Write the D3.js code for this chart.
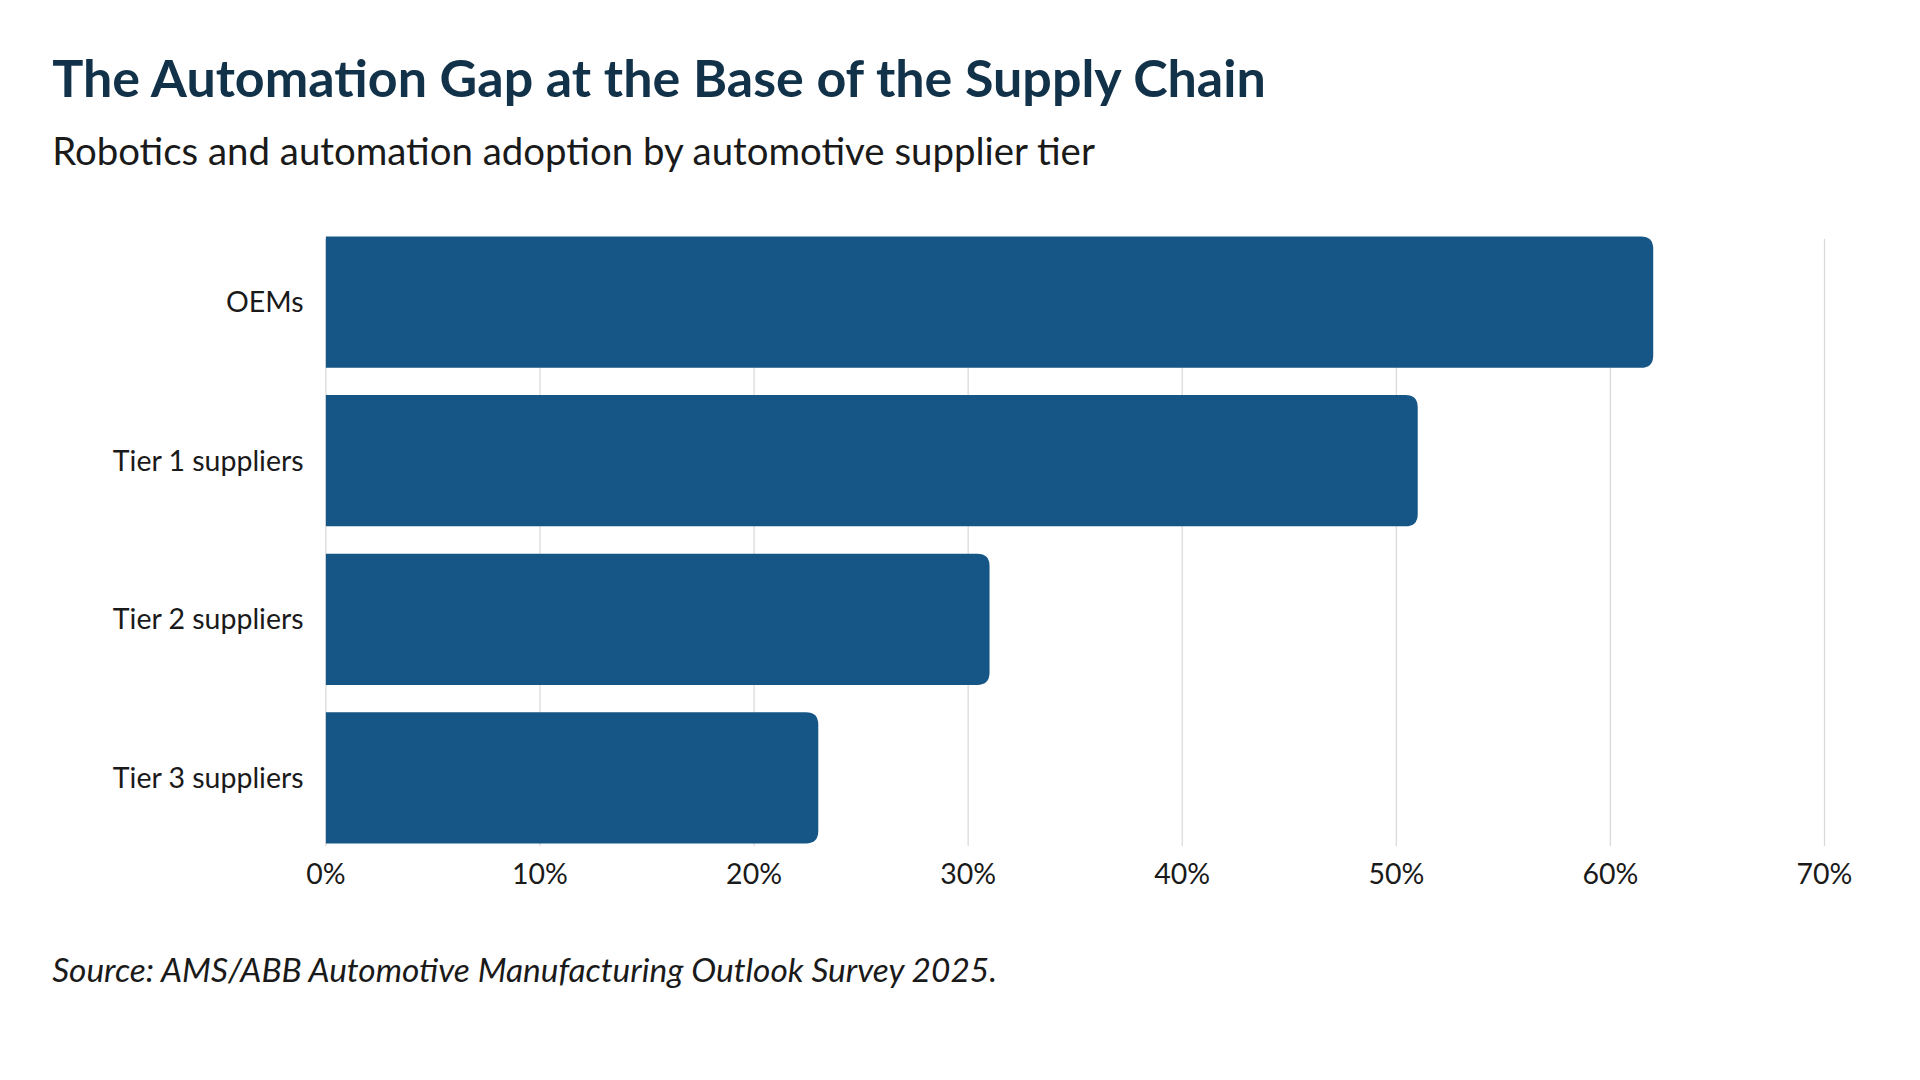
<!DOCTYPE html>
<html>
<head>
<meta charset="utf-8">
<script src="https://cdn.jsdelivr.net/npm/d3@7"></script>
<style>
  body { margin: 0; background: #fff; }
  text { font-family: Lato, "Noto Sans", sans-serif; }
</style>
</head>
<body>
<div id="chart"></div>
<script>
// data
var tiers = ["OEMs", "Tier 1 suppliers", "Tier 2 suppliers", "Tier 3 suppliers"];
var adoption = [62, 51, 31, 23];
var tickValues = [0, 10, 20, 30, 40, 50, 60, 70];

// drawn in a 1550x872 coordinate space, scaled to the window
var svg = d3.select("#chart").append("svg")
    .attr("width", 1920)
    .attr("height", 1080)
    .attr("viewBox", "0 0 1550 872");

svg.append("text")
    .attr("x", 42).attr("y", 78)
    .attr("font-size", 42).attr("font-weight", 700)
    .attr("fill", "#12324a")
    .text("The Automation Gap at the Base of the Supply Chain");

svg.append("text")
    .attr("x", 42).attr("y", 133)
    .attr("font-size", 31)
    .attr("fill", "#1a1a1a")
    .text("Robotics and automation adoption by automotive supplier tier");

var x = d3.scaleLinear().domain([0, 70]).range([263, 1473]);
var y = d3.scaleBand().domain(tiers).range([180, 692])
    .paddingInner(0.172).paddingOuter(0.086);

// gridlines
svg.selectAll("line.grid")
    .data(tickValues)
    .enter().append("line")
    .attr("class", "grid")
    .attr("x1", d => x(d)).attr("x2", d => x(d))
    .attr("y1", 193).attr("y2", 683)
    .attr("stroke", "#d9d9d9").attr("stroke-width", 1);

// bars with rounded right end
var r = 10;
svg.selectAll("path.bar")
    .data(tiers)
    .enter().append("path")
    .attr("class", "bar")
    .attr("fill", "#155686")
    .attr("d", function(d, i) {
        var x0 = x(0), x1 = x(adoption[i]), y0 = y(d), h = y.bandwidth();
        return "M" + x0 + "," + y0 + "H" + (x1 - r) +
            "Q" + x1 + "," + y0 + " " + x1 + "," + (y0 + r) +
            "V" + (y0 + h - r) +
            "Q" + x1 + "," + (y0 + h) + " " + (x1 - r) + "," + (y0 + h) +
            "H" + x0 + "Z";
    });

// category labels
svg.selectAll("text.cat")
    .data(tiers)
    .enter().append("text")
    .attr("class", "cat")
    .attr("x", 245)
    .attr("y", d => y(d) + y.bandwidth() / 2)
    .attr("dy", "0.35em")
    .attr("text-anchor", "end")
    .attr("font-size", 23)
    .attr("fill", "#1a1a1a")
    .text(d => d);

// x axis labels
svg.selectAll("text.tick")
    .data(tickValues)
    .enter().append("text")
    .attr("class", "tick")
    .attr("x", d => x(d))
    .attr("y", 706)
    .attr("dy", "0.35em")
    .attr("text-anchor", "middle")
    .attr("font-size", 23)
    .attr("fill", "#1a1a1a")
    .text(d => d + "%");

svg.append("text")
    .attr("x", 42).attr("y", 793)
    .attr("font-size", 27).attr("font-style", "italic")
    .attr("fill", "#1a1a1a")
    .text("Source: AMS/ABB Automotive Manufacturing Outlook Survey 2025.");
</script>
</body>
</html>
